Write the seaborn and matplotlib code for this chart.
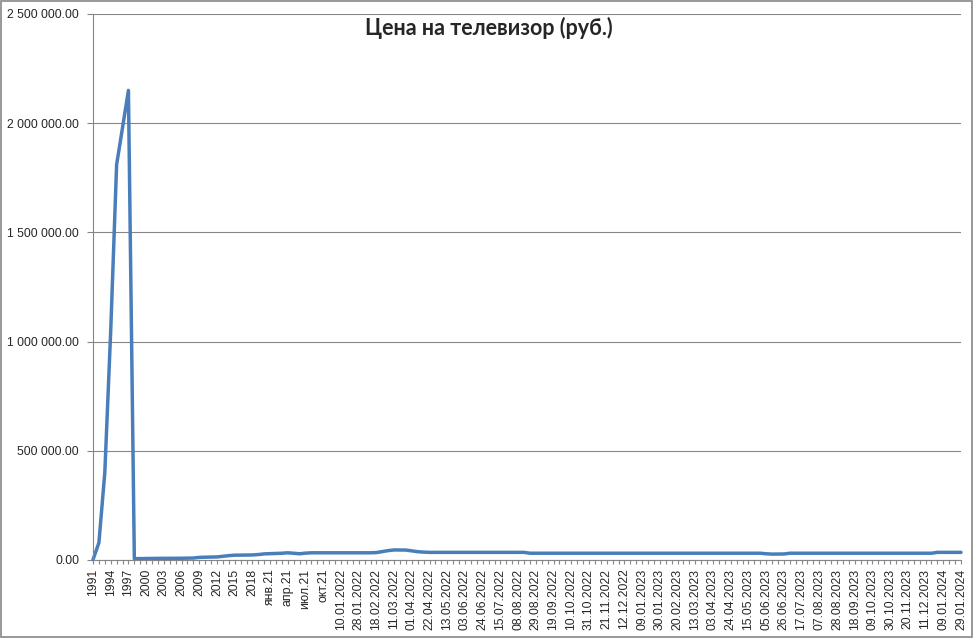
import numpy as np
import pandas as pd
import seaborn as sns
import matplotlib.pyplot as plt
from matplotlib.patches import Rectangle
from matplotlib.ticker import FuncFormatter, MultipleLocator

#
# DATA
#

# подписи оси X (подписана каждая третья категория)
tick_labels = [
    "1991", "1994", "1997", "2000", "2003", "2006", "2009", "2012", "2015", "2018",
    "янв.21", "апр.21", "июл.21", "окт.21",
    "10.01.2022", "28.01.2022", "18.02.2022", "11.03.2022", "01.04.2022", "22.04.2022",
    "13.05.2022", "03.06.2022", "24.06.2022", "15.07.2022", "08.08.2022", "29.08.2022",
    "19.09.2022", "10.10.2022", "31.10.2022", "21.11.2022", "12.12.2022",
    "09.01.2023", "30.01.2023", "20.02.2023", "13.03.2023", "03.04.2023", "24.04.2023",
    "15.05.2023", "05.06.2023", "26.06.2023", "17.07.2023", "07.08.2023", "28.08.2023",
    "18.09.2023", "09.10.2023", "30.10.2023", "20.11.2023", "11.12.2023",
    "09.01.2024", "29.01.2024",
]

# цены по годам 1991-2020
price_years = [
    1500, 79000, 400000, 1050000, 1810000, 1980000, 2150000,
    6000, 6500, 7000, 7000, 7500, 7500, 8000, 8000,
    8000, 8500, 9000,
    12000, 13000, 13500, 14000,
    17000, 20000,
    22000, 22500, 23000, 23000, 25000,
    28000,
]

# цены по месяцам 2021
price_months_2021 = [29000, 29500, 31000, 33000, 31000, 28500,
                     31500, 33000, 33000, 33000, 33000, 33000]

# цены по датам 2022
price_2022 = [
    33000, 33000, 33000, 33000, 33000, 33000,
    34000, 38500, 43000, 46000, 46000, 45500, 42000, 38000, 36000,
    35000, 35000, 35000, 35000, 35000, 35000, 35000, 35000, 35000,
    35000, 35000, 35000, 35000, 35000, 35000, 35000, 35000,
    31000, 31000, 31000, 31000, 31000, 31000, 31000, 31000, 31000, 31000,
    31000, 31000, 31000, 31000, 31000, 31000, 31000, 31000,
]

# цены по датам 2023-2024
price_2023 = [
    31000, 31000, 31000, 31000, 31000, 31000, 31000, 31000, 31000, 31000,
    31000, 31000, 31000, 31000, 31000, 31000, 31000, 31000, 31000, 31000,
    31000, 31000,
    28500, 27000, 27000, 27500,
    31000, 31000, 31000, 31000, 31000, 31000, 31000, 31000, 31000, 31000,
    31000, 31000, 31000, 31000, 31000, 31000, 31000, 31000, 31000, 31000,
    31000, 31000, 31000, 31000, 31000,
    35000, 35000, 35000, 35000, 35000,
]

price = price_years + price_months_2021 + price_2022 + price_2023
df = pd.DataFrame({"n": np.arange(len(price)), "price": price})

#
# PLOT
#

sns.set_style("white")
plt.rcParams["font.family"] = ["Liberation Sans", "DejaVu Sans"]
GRAY = "#868686"

f = plt.figure(figsize=(9.77, 6.39), dpi=100)
ax = f.add_axes([93 / 977, 79 / 639, 868 / 977, 546 / 639])

sns.lineplot(x="n", y="price", data=df, ax=ax, color="#4A7EBB",
             linewidth=2.5, clip_on=False)

ax.set_xlim(0, len(price) - 1)
ax.set_ylim(0, 2500000)
ax.yaxis.set_major_locator(MultipleLocator(500000))
ax.yaxis.set_major_formatter(FuncFormatter(lambda v, p: f"{v:,.2f}".replace(",", " ")))

ax.set_xticks(np.arange(0, len(price), 3))
ax.set_xticklabels(tick_labels, rotation=90, va="top", ha="center")
ax.set_xticks(np.arange(len(price)), minor=True)

ax.set_xlabel("")
ax.set_ylabel("")
ax.grid(axis="y", color=GRAY, linewidth=0.8)
ax.set_axisbelow(True)

for s in ["top", "right"]:
    ax.spines[s].set_visible(False)
for s in ["left", "bottom"]:
    ax.spines[s].set_color(GRAY)
    ax.spines[s].set_linewidth(0.8)

ax.tick_params(axis="y", which="major", direction="out", length=4.5, width=0.8,
               color=GRAY, labelsize=8.8, pad=5.5, left=True)
ax.tick_params(axis="x", which="both", direction="out", length=3.2, width=0.8,
               color=GRAY, labelsize=8.8, pad=3, bottom=True)

f.text(0.5, 1 - 28 / 639, "Цена на телевизор (руб.)", ha="center", va="center",
       fontsize=15.5, fontweight="bold", family=["Lato", "DejaVu Sans"])

f.patches.append(Rectangle((1 / 977, 2 / 639), 971 / 977, 636 / 639,
                           transform=f.transFigure, fill=False,
                           edgecolor=GRAY, linewidth=1.2))

f.savefig("out.png", dpi=100)
